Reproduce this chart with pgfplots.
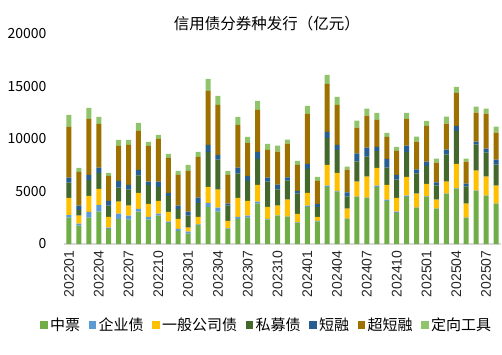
\documentclass[border=0pt]{standalone}
\usepackage{pgfplots}
\pgfplotsset{compat=1.18}
\usepackage{pgfplotstable}
\usepackage{fontspec}
\setmainfont{Noto Sans CJK SC}
\newfontfamily\arialf{Liberation Sans}
\definecolor{c1}{HTML}{70AD47}
\definecolor{c2}{HTML}{5B9BD5}
\definecolor{c3}{HTML}{FFC000}
\definecolor{c4}{HTML}{43682B}
\definecolor{c5}{HTML}{255E91}
\definecolor{c6}{HTML}{9E7000}
\definecolor{c7}{HTML}{8FC46B}
\pgfplotstableread{
x zp qy yb sm dr cd dx
0 2504 250 1617 1458 475 4818 1141
1 1744 190 761 539 412 3202 380
2 2504 539 1522 1522 475 5326 1046
3 3075 634 1522 1522 507 4153 666
4 1427 127 1014 1078 444 2378 285
5 2378 507 1141 1331 634 3329 571
6 2314 380 951 1522 444 3804 476
7 3075 254 1522 1680 507 3709 761
8 2314 254 1236 1807 317 3392 380
9 2695 190 1205 1331 507 4058 380
10 1997 127 919 1522 285 3329 380
11 1236 190 951 951 317 2916 380
12 983 190 380 1141 380 3867 571
13 1807 63 697 1331 507 3867 476
14 3519 380 1522 3329 666 5135 1141
15 3075 380 1712 2853 444 4755 856
16 1427 63 697 1458 190 2726 380
17 2378 190 1807 2314 571 4058 761
18 2504 190 1395 1902 475 3138 571
19 3836 190 1585 2473 666 3994 856
20 2314 63 1141 2409 380 2631 571
21 2695 30 919 1553 444 3138 571
22 2568 30 1617 1807 317 3202 380
23 1997 63 793 1934 254 2473 380
24 3519 127 1205 2282 475 4755 761
25 2124 63 380 951 285 2187 380
26 5421 127 1965 2568 571 4565 856
27 4977 63 1712 2187 475 3804 761
28 2378 30 951 1141 412 2156 285
29 4470 30 1427 1934 761 2441 666
30 4375 30 1997 1902 856 3043 666
31 5421 127 1680 1617 380 2568 666
32 4089 127 1395 1648 824 2092 380
33 2948 127 1300 1744 444 2282 380
34 4470 127 1775 2378 602 2536 571
35 3424 30 1331 1934 380 2631 476
36 4470 63 1173 1712 412 3392 476
37 3329 30 856 1363 285 1870 380
38 4755 30 1141 2568 475 2473 666
39 5231 63 2314 3138 475 3138 571
40 2473 30 1331 1617 285 2092 285
41 5040 30 1902 2473 285 2758 571
42 4565 30 1807 2282 380 3329 476
43 3804 30 1712 1997 475 2568 571
}\data
\begin{document}
\begin{tikzpicture}[x=1pt,y=1pt]
\useasboundingbox (0,0) rectangle (502,354);
\begin{axis}[
  at={(64pt,110pt)}, anchor=south west,
  width=437pt, height=210.5pt, scale only axis,
  clip=false,
  ybar stacked, bar width=5pt,
  xmin=-0.5, xmax=43.5, ymin=0, ymax=20000,
  xtick={0,3,...,42},
  xticklabels={202201,202204,202207,202210,202301,202304,202307,202310,202401,202404,202407,202410,202501,202504,202507},
  ytick={0,5000,10000,15000,20000},
  scaled y ticks=false,
  yticklabel style={font=\fontsize{14}{14}\selectfont, /pgf/number format/fixed, /pgf/number format/1000 sep={}, /pgf/number format/assume math mode=true},
  yticklabel shift=14pt,
  xticklabel style={rotate=90, anchor=east, font=\arialf\fontsize{14}{14}\selectfont, text=black!85},
  xticklabel shift=3pt,
  major tick length=0pt,
  axis x line*=bottom, axis y line*=left,
  y axis line style={draw=none},
  x axis line style={draw=black!15, line width=1.5pt},
  title={信用债分券种发行（亿元）},
  title style={at={(0.464,1.017)}, anchor=center, font=\fontsize{15.5}{15.5}\selectfont},
  legend columns=7,
  legend style={draw=none, at={(0.464,-0.385)}, anchor=center, font=\fontsize{15}{15}\selectfont,
    /tikz/every even column/.append style={column sep=6pt}, inner sep=0pt,
    nodes={inner sep=2.5pt}},
  legend image code/.code={\path[#1, draw=none] (0pt,-3.75pt) rectangle (7.5pt,3.75pt);},
]
\addplot[fill=c1, draw=none] table[x=x, y=zp] {\data};
\addplot[fill=c2, draw=none] table[x=x, y=qy] {\data};
\addplot[fill=c3, draw=none] table[x=x, y=yb] {\data};
\addplot[fill=c4, draw=none] table[x=x, y=sm] {\data};
\addplot[fill=c5, draw=none] table[x=x, y=dr] {\data};
\addplot[fill=c6, draw=none] table[x=x, y=cd] {\data};
\addplot[fill=c7, draw=none] table[x=x, y=dx] {\data};
\legend{中票,企业债,一般公司债,私募债,短融,超短融,定向工具}
\end{axis}
\end{tikzpicture}
\end{document}
